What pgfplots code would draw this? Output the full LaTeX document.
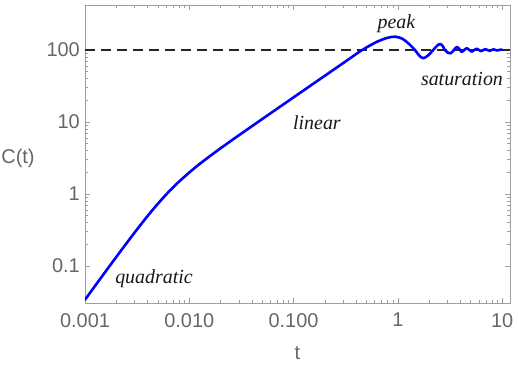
\documentclass[border=0pt]{standalone}
\usepackage{fontspec}
\setmainfont{Liberation Serif}
\setsansfont{Liberation Sans}
\usepackage{pgfplots}
\pgfplotsset{compat=1.18}
\definecolor{framegray}{gray}{0.62}
\definecolor{labgray}{gray}{0.40}
\begin{document}
\begin{tikzpicture}
\begin{axis}[
  at={(0,0)}, anchor=south west,
  scale only axis, width=425bp, height=298bp,
  xmode=log, ymode=log,
  xmin=0.001, xmax=11.9, ymin=0.0306, ymax=422,
  axis line style={framegray, line width=0.8bp},
  tick style={framegray, line width=0.6bp},
  tick align=inside,
  major tick length=5bp, minor tick length=2.7bp,
  xtick={0.001,0.01,0.1,1,10},
  xticklabels={0.001,0.010,0.100,1,10},
  ytick={0.1,1,10,100},
  yticklabels={0.1,1,10,100},
  xticklabel style={font=\sffamily\fontsize{20}{24}\selectfont, text=labgray, inner sep=0pt, yshift=-10bp},
  yticklabel style={font=\sffamily\fontsize{20}{24}\selectfont, text=labgray, inner sep=0pt, xshift=-5bp},
  clip=true,
]
\addplot[black!85, line width=1.1bp, dash pattern=on 10bp off 6bp] coordinates {(0.001,100) (11.9,100)};
\addplot[blue, line width=2.6bp, smooth, tension=0.5, line join=round, line cap=round] coordinates {
(0.001,0.034) (0.0015,0.0761) (0.002,0.134) (0.003,0.293) (0.004,0.498)
(0.005,0.732) (0.006,0.982) (0.007,1.237) (0.008,1.492) (0.01,1.99)
(0.012,2.476) (0.015,3.18) (0.02,4.325) (0.03,6.56) (0.05,10.98)
(0.1,22) (0.2,44) (0.3,66) (0.45,99)
(0.63,130) (0.8,148) (0.94,153) (1.1,144) (1.26,124) (1.46,100) (1.6,84)
(1.75,77) (1.95,84) (2.18,100) (2.4,116) (2.56,121) (2.7,113) (2.83,100)
(3.0,92) (3.21,90) (3.45,100) (3.66,110) (3.88,104) (4.09,94) (4.33,100)
(4.57,106) (4.85,100) (5.1,95) (5.4,100) (5.7,104.5) (6.0,100) (6.3,96.5)
(6.6,100) (6.9,103) (7.25,100) (7.6,97.5) (7.95,100) (8.3,102) (8.65,100)
(9.0,98.5) (9.35,100) (9.7,101.5) (10.0,100.5)
};
\node[font=\itshape\fontsize{20}{24}\selectfont, text=black!90] at (axis cs:0.97,230) {peak};
\node[font=\itshape\fontsize{20}{24}\selectfont, text=black!90] at (axis cs:4.12,39.5) {saturation};
\node[font=\itshape\fontsize{20}{24}\selectfont, text=black!90] at (axis cs:0.1675,9.7) {linear};
\node[font=\itshape\fontsize{20}{24}\selectfont, text=black!90] at (axis cs:0.00459,0.066) {quadratic};
\end{axis}
\node[font=\sffamily\fontsize{20}{24}\selectfont, text=labgray] at (212.5bp,-50bp) {t};
\node[font=\sffamily\fontsize{20}{24}\selectfont, text=labgray] at (-67bp,145bp) {C(t)};
\pgfresetboundingbox
\path[use as bounding box] (-85bp,-64bp) rectangle (433bp,303bp);
\end{tikzpicture}
\end{document}
